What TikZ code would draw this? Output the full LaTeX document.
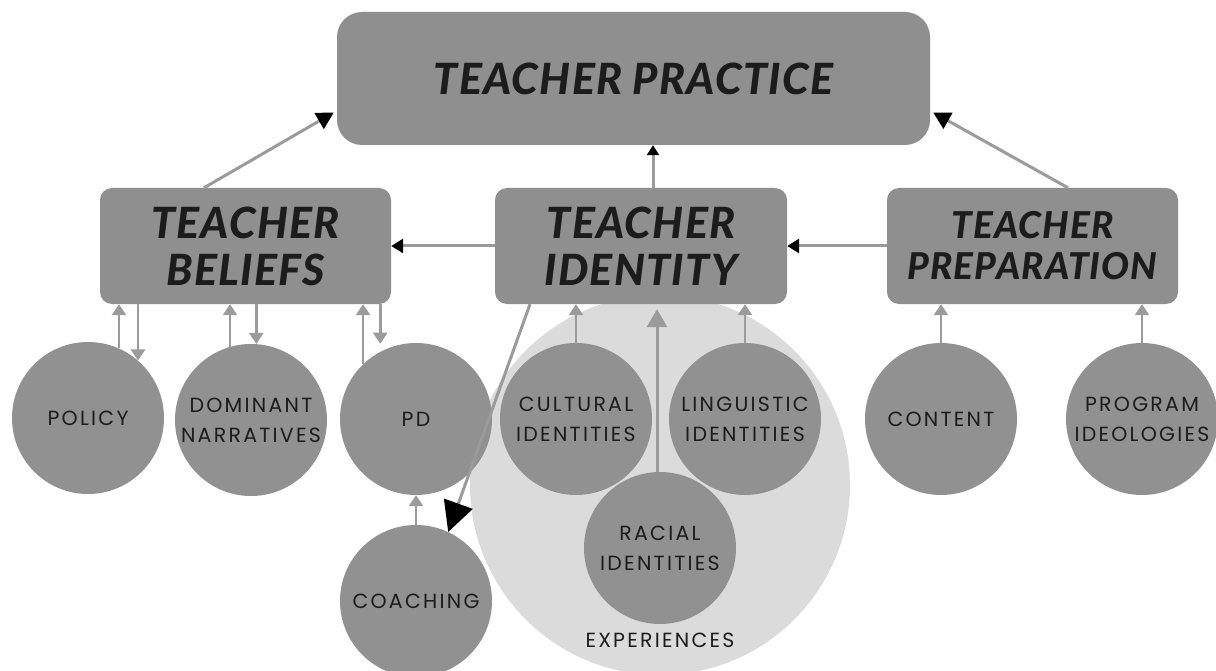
\documentclass[tikz,border=0pt]{standalone}
\usepackage{fontspec}
\usetikzlibrary{arrows.meta,calc}
\newfontfamily\boxfont{Lato}[BoldItalicFont={Lato Black Italic}, LetterSpace=3.0]
\newfontfamily\circfont{Poppins}[LetterSpace=11.0]
\definecolor{boxgray}{HTML}{8F8F8F}
\definecolor{circgray}{HTML}{919191}
\definecolor{lightgray}{HTML}{DBDBDB}
\definecolor{linegray}{HTML}{9B9B9B}
\definecolor{textdark}{HTML}{1C1C1C}
\begin{document}
\begin{tikzpicture}[x=1pt,y=-1pt,
  box/.style={fill=boxgray, rounded corners=12pt, inner sep=0pt, align=center,
    font=\boxfont\bfseries\itshape\fontsize{43}{47}\selectfont, text=textdark},
  circ/.style={circle, fill=circgray, minimum size=152pt, inner sep=0pt, align=center,
    font=\circfont\fontsize{20.5}{30}\selectfont, text=textdark},
  link/.style={draw=linegray, line width=3pt},
  mainarrow/.style={link, -{Triangle[length=12pt,width=14pt,color=black]}},
  smallarrow/.style={draw=linegray, line width=2.6pt, -{Triangle[length=11pt,width=14pt,color=linegray]}}
]
\useasboundingbox (0,0) rectangle (1216,671);
\fill[white] (0,0) rectangle (1216,671);
\clip (0,0) rectangle (1216,671);

% experiences background
\node[circle, fill=lightgray, minimum size=380pt, inner sep=0pt] (exp) at (660,485) {};
\node[font=\circfont\fontsize{20.5}{24}\selectfont, text=textdark] (explabel) at ([yshift=35pt]exp.south) {EXPERIENCES};

% boxes
\node[box, rounded corners=25pt, minimum width=593pt, minimum height=133pt] (top) at (633.5,78.5) {TEACHER PRACTICE};
\node[box, minimum width=291pt, minimum height=116pt] (bel) at (245.5,246) {TEACHER\\BELIEFS};
\node[box, minimum width=292pt, minimum height=116pt] (idn) at (641,246) {TEACHER\\IDENTITY};
\node[box, minimum width=291pt, minimum height=116pt, font=\boxfont\bfseries\itshape\fontsize{37}{41}\selectfont] (prep) at (1032.5,246) {TEACHER\\PREPARATION};

% circles
\node[circ] (pol) at (88,418) {POLICY};
\node[circ] (dom) at (251,420) {DOMINANT\\NARRATIVES};
\node[circ] (pd)  at (416,419) {PD};
\node[circ] (cul) at (576,419) {CULTURAL\\IDENTITIES};
\node[circ] (lin) at (745,419) {LINGUISTIC\\IDENTITIES};
\node[circ] (rac) at (660,548) {RACIAL\\IDENTITIES};
\node[circ] (coa) at (416,601) {COACHING};
\node[circ] (con) at (941,419) {CONTENT};
\node[circ] (prg) at (1142,419) {PROGRAM\\IDEOLOGIES};

% main connectors
\draw[link, -{Triangle[length=17pt,width=18pt,color=black]}] ([xshift=-41.5pt]bel.north) -- ([xshift=-3pt,yshift=-34pt]top.west);
\draw[link, -{Triangle[length=17pt,width=18pt,color=black]}] ([xshift=35.5pt]prep.north) -- ([xshift=3pt,yshift=-34pt]top.east);
\draw[mainarrow, -{Triangle[length=10pt,width=12pt,color=black]}] ([xshift=12pt]idn.north) -- ([xshift=12pt]idn.north |- top.south);
\draw[mainarrow] (idn.west) -- (bel.east);
\draw[mainarrow] (prep.west) -- (idn.east);
\draw[link, -{Triangle[length=30pt,width=30pt,color=black]}] ([xshift=-111pt]idn.south) -- (coa.65);

% beliefs <-> circles
\draw[smallarrow] (pol.66.8) -- (pol.66.8 |- bel.south);
\draw[smallarrow] (pol.49.8 |- bel.south) -- (pol.49.8);
\draw[smallarrow] (dom.106.1) -- (dom.106.1 |- bel.south);
\draw[smallarrow] (dom.86.2 |- bel.south) -- (dom.86.2);
\draw[smallarrow] (pd.134.2) -- (pd.134.2 |- bel.south);
\draw[smallarrow, shorten >=8pt] (pd.118.3 |- bel.south) -- (pd.118.3);

% identity circles
\draw[smallarrow] (cul.north) -- (cul.north |- idn.south);
\draw[smallarrow] (lin.north) -- (lin.north |- idn.south);
\draw[draw=linegray, line width=3pt, -{Triangle[length=18pt,width=20pt,color=linegray]}, shorten >=5pt] ([xshift=-3pt]rac.north) -- ([xshift=-3pt]rac.north |- idn.south);

% others
\draw[smallarrow] (coa.north) -- (pd.south);
\draw[smallarrow] (con.north) -- (con.north |- prep.south);
\draw[smallarrow] (prg.north) -- (prg.north |- prep.south);
\end{tikzpicture}
\end{document}
